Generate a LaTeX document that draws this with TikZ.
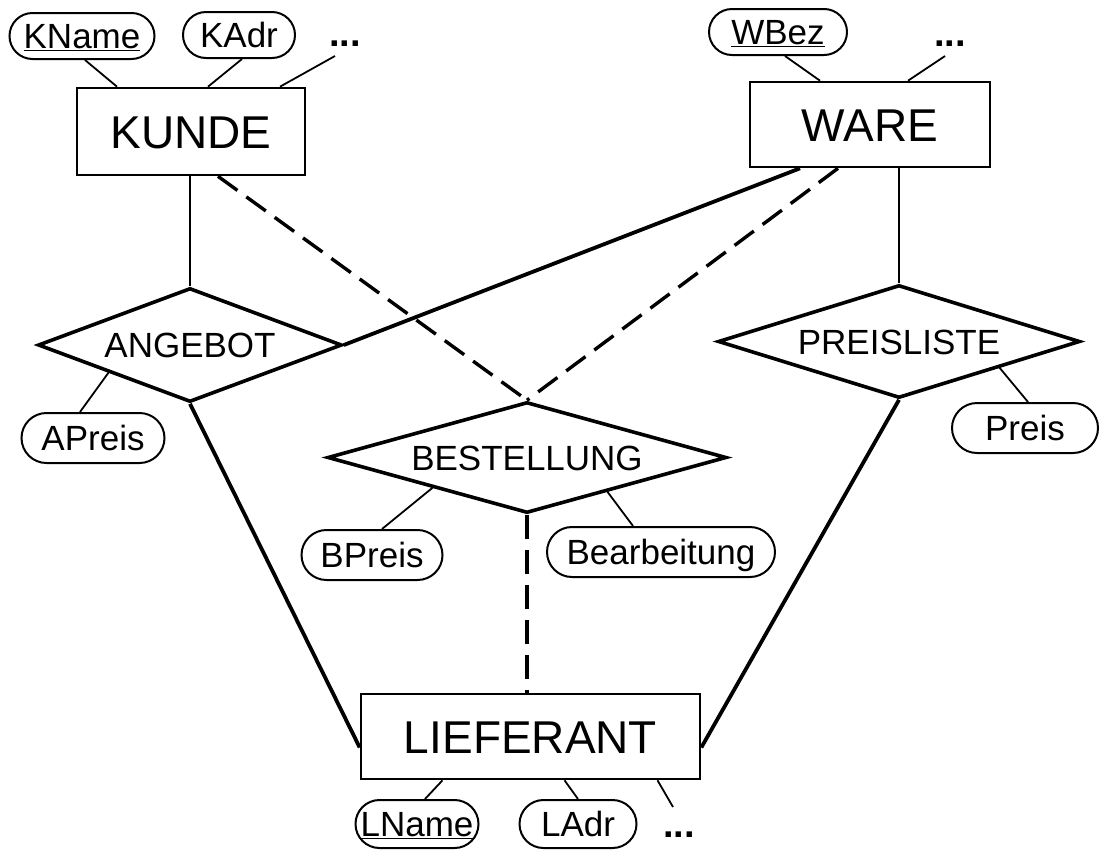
\documentclass[tikz,border=0pt]{standalone}
\usepackage{fontspec}
\setmainfont{Liberation Sans}
\usetikzlibrary{shapes.geometric,shapes.misc,calc}
\begin{document}
\begin{tikzpicture}[x=1pt,y=-1pt,
  entity/.style={draw,line width=2.6pt,rectangle,inner sep=0pt,text height=33pt,text depth=0pt,font=\fontsize{46}{50}\selectfont},
  relation/.style={draw,line width=3.6pt,diamond,inner sep=0pt,text height=25pt,text depth=0pt,font=\fontsize{35}{40}\selectfont},
  attr/.style={draw,line width=2pt,rounded rectangle,inner sep=0pt,minimum height=46pt,text height=25pt,text depth=0pt,font=\fontsize{35}{40}\selectfont},
  dots/.style={inner sep=0pt,font=\bfseries\fontsize{38}{40}\selectfont},
  link/.style={line width=1.8pt},
  rel/.style={line width=3.8pt},
  vert/.style={line width=2.4pt},
  opt/.style={line width=3.4pt,dash pattern=on 24pt off 11pt},
]
\useasboundingbox (0,0) rectangle (1105,852);

% entities
\node[entity,minimum width=228pt,minimum height=87pt] (kunde) at (191,131.5) {KUNDE};
\node[entity,minimum width=240pt,minimum height=85pt] (ware) at (870,124.5) {WARE};
\node[entity,minimum width=339pt,minimum height=85pt] (lief) at (530.5,736.5) {LIEFERANT};

% relationships
\node[relation,aspect=2.67,minimum width=304pt,minimum height=114pt] (angebot) at (190,345) {ANGEBOT};
\node[relation,aspect=3.6,minimum width=399pt,minimum height=111pt] (bestellung) at (527,457.5) {BESTELLUNG};
\node[relation,aspect=3.2,minimum width=362pt,minimum height=113pt] (preisliste) at (899,341.5) {PREISLISTE};

% attributes
\node[attr,minimum width=145pt] (kname) at (82,36) {\underline{KName}};
\node[attr,minimum width=112pt] (kadr) at (239,35) {KAdr};
\node[dots] (kdots) at (345,44) {...};
\node[attr,minimum width=138pt] (wbez) at (778,32) {\underline{WBez}};
\node[dots] (wdots) at (950,44) {...};
\node[attr,minimum width=143pt,minimum height=50pt] (apreis) at (93,438) {APreis};
\node[attr,minimum width=146pt,minimum height=50pt] (preis) at (1025,428) {Preis};
\node[attr,minimum width=141pt,minimum height=50pt] (bpreis) at (372,555) {BPreis};
\node[attr,minimum width=228pt,minimum height=50pt] (bearb) at (661,552) {Bearbeitung};
\node[attr,minimum width=123pt,minimum height=48pt] (lname) at (417,824) {\underline{LName}};
\node[attr,minimum width=117pt,minimum height=48pt] (ladr) at (578,824) {LAdr};
\node[dots] (ldots) at (679,835) {...};

% attribute links
\draw[link] ([xshift=3pt]kname.south) -- ([xshift=-74pt]kunde.north);
\draw[link] ([xshift=3pt]kadr.south) -- ([xshift=17pt]kunde.north);
\draw[link] ([xshift=-10pt,yshift=-12pt]kdots.center) -- ([xshift=89pt]kunde.north);
\draw[link] ([xshift=7pt]wbez.south) -- ([xshift=-50pt]ware.north);
\draw[link] ([xshift=-5pt,yshift=-12pt]wdots.center) -- ([xshift=38pt]ware.north);
\draw[link] ($(angebot.west)!0.47!(angebot.south)$) -- ([xshift=-13pt]apreis.north);
\draw[link] ($(preisliste.east)!0.45!(preisliste.south)$) -- ([xshift=3pt]preis.north);
\draw[link] ($(bestellung.west)!0.53!(bestellung.south)$) -- ([xshift=10pt]bpreis.north);
\draw[link] ($(bestellung.south)!0.4!(bestellung.east)$) -- ([xshift=-28pt]bearb.north);
\draw[link] ([xshift=-88pt]lief.south) -- ([xshift=8pt]lname.north);
\draw[link] ([xshift=34pt]lief.south) -- (ladr.north);
\draw[link] ([xshift=127pt]lief.south) -- ([xshift=-6pt,yshift=28pt]ldots.center);

% relationship links
\draw[vert] (kunde.south -| angebot.north) -- (angebot.north);
\draw[vert] (ware.south -| preisliste.north) -- (preisliste.north);
\draw[rel] ([xshift=-70pt]ware.south) -- (angebot.east);
\draw[rel] (angebot.south) -- ([yshift=-11pt]lief.west);
\draw[rel] (preisliste.south) -- ([yshift=-11pt]lief.east);
\draw[opt] ([xshift=27pt]kunde.south) -- (bestellung.north);
\draw[opt] ([xshift=-32pt]ware.south) -- (bestellung.north);
\draw[opt] (bestellung.south) -- (bestellung.south |- lief.north);
\end{tikzpicture}
\end{document}
